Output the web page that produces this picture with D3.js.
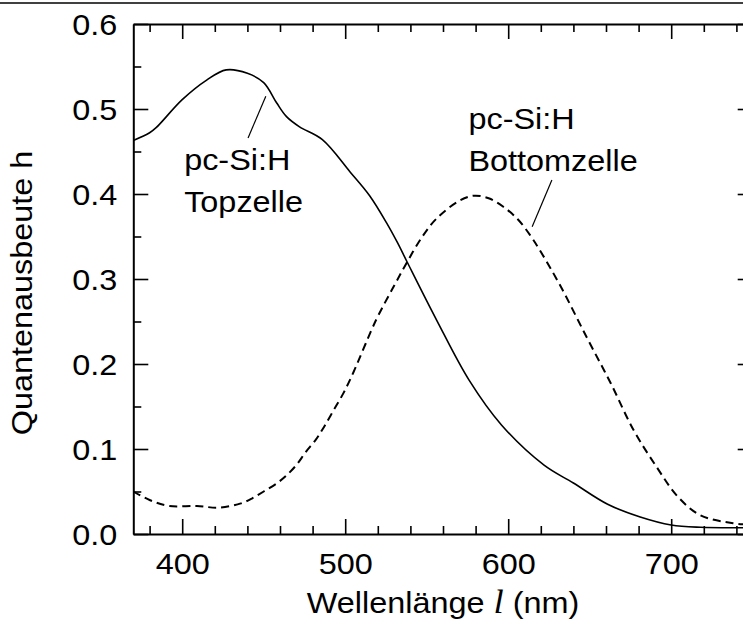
<!DOCTYPE html>
<html><head><meta charset="utf-8">
<script src="https://cdn.jsdelivr.net/npm/d3@7"></script>
<style>
body{margin:0;background:#fff}
svg{display:block}
text{font-family:"Liberation Sans",Arial,Helvetica,sans-serif;fill:#000}
</style>
</head><body>
<svg id="c" width="743" height="632"></svg>
<script>
// ---- data ----
const topWl = [370, 380, 384, 400, 415, 427, 440, 450, 458, 464, 472, 486, 503, 515, 526, 532, 538, 556, 576, 596, 622, 640, 661, 681, 700, 718, 744, 750];
const topQE = [0.463, 0.472, 0.478, 0.511, 0.534, 0.546, 0.542, 0.531, 0.507, 0.491, 0.479, 0.464, 0.426, 0.398, 0.364, 0.343, 0.320, 0.252, 0.181, 0.128, 0.081, 0.060, 0.035, 0.020, 0.0106, 0.0079, 0.0074, 0.0073];
const botWl = [370, 380, 392, 409, 422, 436, 443, 450, 458, 464, 470, 476, 482, 487, 493, 499, 505, 519, 530, 538, 547, 556, 570, 579, 588, 597, 606, 614, 620, 632, 648, 663, 677, 691, 704, 718, 738, 750];
const botQE = [0.050, 0.040, 0.033, 0.033, 0.031, 0.036, 0.042, 0.050, 0.0596, 0.069, 0.081, 0.097, 0.111, 0.126, 0.146, 0.166, 0.190, 0.252, 0.292, 0.320, 0.349, 0.371, 0.392, 0.398, 0.395, 0.385, 0.370, 0.350, 0.332, 0.292, 0.232, 0.177, 0.122, 0.079, 0.044, 0.022, 0.0126, 0.011];
const xMajorTicks = [400, 500, 600, 700];
const xMinorTicks = [380, 420, 440, 460, 480, 520, 540, 560, 580, 620, 640, 660, 680, 720, 740];
const yMajorTicks = [0.0, 0.1, 0.2, 0.3, 0.4, 0.5, 0.6];
const yMinorTicks = [0.05, 0.15, 0.25, 0.35, 0.45, 0.55];
const xDomain = [370, 750];
const yDomain = [0, 0.6];
const yTitle = "Quantenausbeute h";
const xTitle = ["Wellenlänge ", "l", " (nm)"];
const labels = [
  {lines: ["pc-Si:H", "Topzelle"], wl: 401.2, qe: 0.428, lead: [[451.3, 0.515], [440.4, 0.466]]},
  {lines: ["pc-Si:H", "Bottomzelle"], wl: 575.6, qe: 0.477, lead: [[626.8, 0.4165], [614.7, 0.3615]]}
];

// ---- layout ----
const svg = d3.select("#c");
const L = 133.3, R = 752.7, T = 24, B = 534;
const FS = 30, SX = 1.08;
const x = d3.scaleLinear().domain(xDomain).range([L, R]);
const y = d3.scaleLinear().domain(yDomain).range([B, T]);

// top frame line
svg.append("line").attr("x1", 0).attr("x2", 743).attr("y1", 3).attr("y2", 3)
  .attr("stroke", "#000").attr("stroke-width", 1.6);

const clipId = "plotclip";
svg.append("defs").append("clipPath").attr("id", clipId)
  .append("rect").attr("x", L).attr("y", T).attr("width", R - L).attr("height", B - T);

function styleAxis(g, showText) {
  g.select(".domain").attr("stroke", "#000").attr("stroke-width", 2);
  g.selectAll(".tick line").attr("stroke", "#000").attr("stroke-width", 1.6);
  if (!showText) g.selectAll(".tick text").remove();
  g.attr("font-family", null).attr("font-size", null);
}

// bottom axis
const gB = svg.append("g").attr("transform", `translate(0,${B})`)
  .call(d3.axisBottom(x).tickValues(xMajorTicks).tickSizeInner(-15).tickSizeOuter(0).tickFormat(d3.format("d")));
styleAxis(gB, true);
gB.selectAll(".tick text").attr("y", 0).attr("dy", null)
  .attr("transform", `translate(0,40) scale(${SX},1)`).style("font-size", FS + "px");
svg.append("g").attr("transform", `translate(0,${B})`)
  .call(d3.axisBottom(x).tickValues(xMinorTicks).tickSizeInner(-8).tickSizeOuter(0))
  .call(g => { styleAxis(g, false); g.select(".domain").remove(); });

// top axis
const gT = svg.append("g").attr("transform", `translate(0,${T})`)
  .call(d3.axisTop(x).tickValues(xMajorTicks).tickSizeInner(-15).tickSizeOuter(0));
styleAxis(gT, false);
svg.append("g").attr("transform", `translate(0,${T})`)
  .call(d3.axisTop(x).tickValues(xMinorTicks).tickSizeInner(-8).tickSizeOuter(0))
  .call(g => { styleAxis(g, false); g.select(".domain").remove(); });

// left axis
const gL = svg.append("g").attr("transform", `translate(${L},0)`)
  .call(d3.axisLeft(y).tickValues(yMajorTicks).tickSizeInner(-15).tickSizeOuter(0).tickFormat(d3.format(".1f")));
styleAxis(gL, true);
gL.selectAll(".tick text").attr("x", 0).attr("dy", "0.36em")
  .attr("transform", `translate(-16,0) scale(${SX},1)`).style("font-size", FS + "px");
svg.append("g").attr("transform", `translate(${L},0)`)
  .call(d3.axisLeft(y).tickValues(yMinorTicks).tickSizeInner(-8).tickSizeOuter(0))
  .call(g => { styleAxis(g, false); g.select(".domain").remove(); });

// right axis
const gR = svg.append("g").attr("transform", `translate(${R},0)`)
  .call(d3.axisRight(y).tickValues(yMajorTicks).tickSizeInner(-15).tickSizeOuter(0));
styleAxis(gR, false);
svg.append("g").attr("transform", `translate(${R},0)`)
  .call(d3.axisRight(y).tickValues(yMinorTicks).tickSizeInner(-8).tickSizeOuter(0))
  .call(g => { styleAxis(g, false); g.select(".domain").remove(); });

// curves
const line = d3.line().curve(d3.curveCatmullRom.alpha(0.5)).x(d => x(d[0])).y(d => y(d[1]));
const plot = svg.append("g").attr("clip-path", `url(#${clipId})`);
plot.append("path").datum(d3.zip(topWl, topQE)).attr("d", line)
  .attr("fill", "none").attr("stroke", "#000").attr("stroke-width", 1.6);
plot.append("path").datum(d3.zip(botWl, botQE)).attr("d", line)
  .attr("fill", "none").attr("stroke", "#000").attr("stroke-width", 2)
  .attr("stroke-dasharray", "8,5");

// annotations
labels.forEach(lb => {
  const t = svg.append("text")
    .attr("transform", `translate(${x(lb.wl)},${y(lb.qe)}) scale(${SX},1)`)
    .style("font-size", FS + "px");
  lb.lines.forEach((s, i) => t.append("tspan").attr("x", 0).attr("y", i * 42).text(s));
  svg.append("line")
    .attr("x1", x(lb.lead[0][0])).attr("y1", y(lb.lead[0][1]))
    .attr("x2", x(lb.lead[1][0])).attr("y2", y(lb.lead[1][1]))
    .attr("stroke", "#000").attr("stroke-width", 1.2);
});

// axis titles
const xt = svg.append("text")
  .attr("transform", `translate(${(L + R) / 2},613) scale(${SX},1)`)
  .attr("text-anchor", "middle").style("font-size", FS + "px");
xt.append("tspan").text(xTitle[0]);
xt.append("tspan").text(xTitle[1]).style("font-family", '"Liberation Serif","Times New Roman",serif').style("font-style", "italic").style("font-size", "34px");
xt.append("tspan").text(xTitle[2]);

svg.append("text")
  .attr("transform", `translate(32,${(T + B) / 2 + 14}) rotate(-90) scale(${SX},1)`)
  .attr("text-anchor", "middle").style("font-size", FS + "px")
  .text(yTitle);
</script>
</body></html>
